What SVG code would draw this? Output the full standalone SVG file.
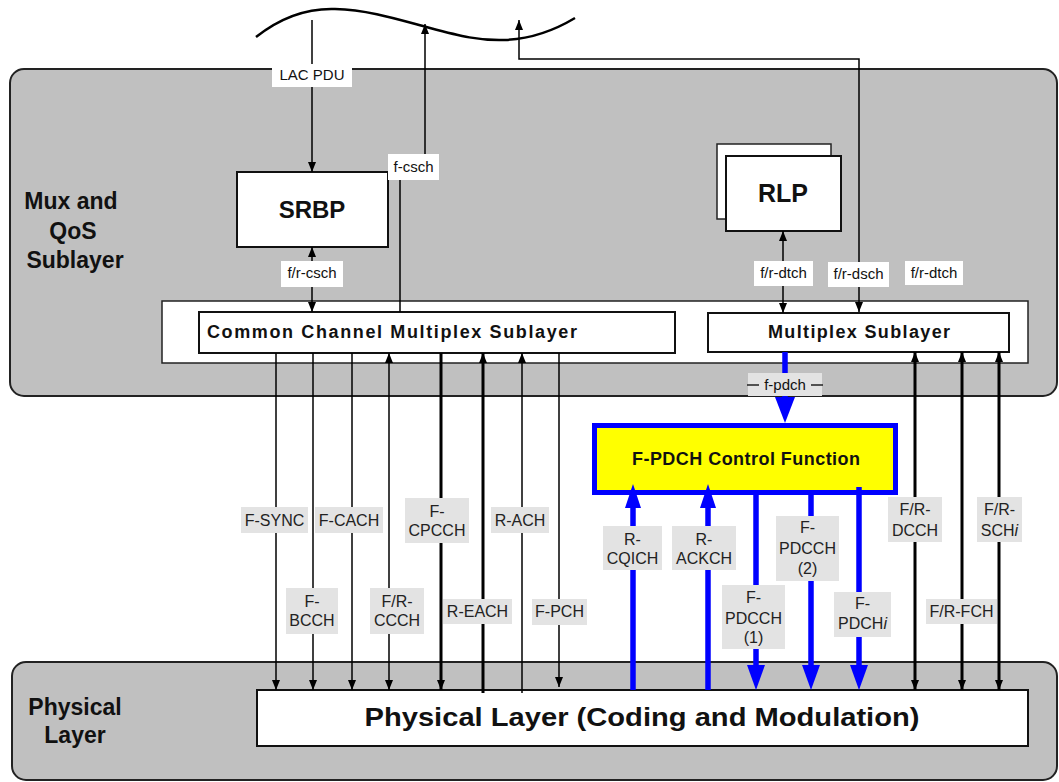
<svg xmlns="http://www.w3.org/2000/svg" width="1059" height="782" viewBox="0 0 1059 782">
  <defs>
    <style>
      .layer { fill: #c0c0c0; stroke: #222; stroke-width: 2; }
      .box { fill: #fff; stroke: #111; stroke-width: 2; }
      .thinbox { fill: #fff; stroke: #222; stroke-width: 1.5; }
      .ln { stroke: #000; stroke-width: 1.5; fill: none; }
      .lnb { stroke: #000; stroke-width: 3; fill: none; }
      .blue { stroke: #0000ff; stroke-width: 5.5; fill: none; }
      .bhead { fill: #0000ff; }
      .glab { fill: #e3e3e3; }
      .wlab { fill: #fff; }
      .lt { font-family: "Liberation Sans", Arial, sans-serif; font-size: 16px; fill: #222; text-anchor: middle; }
      .wt { font-family: "Liberation Sans", Arial, sans-serif; font-size: 15px; fill: #111; text-anchor: middle; }
      .nt { font-family: "Liberation Sans", Arial, sans-serif; font-weight: bold; fill: #111; text-anchor: middle; }
    </style>
    <marker id="arr" viewBox="0 0 10 8" refX="10" refY="4" markerUnits="userSpaceOnUse" markerWidth="10" markerHeight="8" orient="auto-start-reverse">
      <path d="M0,0 L10,4 L0,8 z" fill="#000"/>
    </marker>
  </defs>

  <rect width="1059" height="782" fill="#fff"/>

  <!-- upper layer -->
  <g id="mux-qos-sublayer">
    <rect class="layer" x="10" y="69" width="1047" height="327" rx="14"/>
    <text class="nt" font-size="23" x="71" y="209">Mux and</text>
    <text class="nt" font-size="23" x="73" y="239">QoS</text>
    <text class="nt" font-size="23" x="75" y="268">Sublayer</text>
  </g>

  <!-- lower layer -->
  <g id="physical-layer-region">
    <rect class="layer" x="12" y="662" width="1045" height="118" rx="14"/>
    <text class="nt" font-size="23" x="75" y="715">Physical</text>
    <text class="nt" font-size="23" x="75" y="743">Layer</text>
  </g>

  <g id="srbp">
    <rect class="box" x="237" y="172" width="151" height="75"/>
    <text class="nt" font-size="24" x="312" y="218">SRBP</text>
  </g>

  <g id="rlp">
    <rect class="thinbox" x="717" y="144" width="114" height="75"/>
    <rect class="box" x="726" y="156" width="115" height="75" stroke-width="2.5"/>
    <text class="nt" font-size="25" x="783" y="202">RLP</text>
  </g>

  <g id="sublayer-frame">
    <rect class="thinbox" x="162" y="301" width="866" height="62"/>
  </g>

  <g id="common-channel-mux">
    <rect class="box" x="199" y="312" width="476" height="41"/>
    <text class="nt" font-size="18" x="392" y="338" textLength="370">Common Channel Multiplex Sublayer</text>
  </g>

  <g id="multiplex-sublayer">
    <rect class="box" x="708" y="313" width="301" height="39"/>
    <text class="nt" font-size="18" x="859" y="338" textLength="182">Multiplex Sublayer</text>
  </g>

  <g id="pdch-control">
    <rect x="594.5" y="425.5" width="301" height="67" fill="#ffff00" stroke="#0000ff" stroke-width="5"/>
    <text class="nt" font-size="18" x="746" y="465" textLength="228">F-PDCH Control Function</text>
  </g>

  <g id="physical-layer">
    <rect class="box" x="257" y="690" width="771" height="56"/>
    <text class="nt" font-size="26" x="642" y="726" textLength="555" lengthAdjust="spacingAndGlyphs">Physical Layer (Coding and Modulation)</text>
  </g>

  <g id="connectors">
    <!-- air interface curve -->
    <path d="M256,37 C280,18 305,8 335,9 C370,10 400,20 430,28 C460,36 480,41 505,40 C530,39 555,30 575,18" stroke="#000" stroke-width="2.5" fill="none"/>

    <!-- upper sublayer links -->
    <line class="ln" x1="312" y1="20" x2="312" y2="172" marker-end="url(#arr)"/>
    <path class="ln" d="M400,312 V167 H425 V24" marker-end="url(#arr)"/>
    <path class="ln" d="M859,312 V59 H519 V20" stroke-width="2" marker-start="url(#arr)" marker-end="url(#arr)"/>
    <line class="ln" x1="312" y1="247" x2="312" y2="312" marker-start="url(#arr)" marker-end="url(#arr)"/>
    <line class="ln" x1="783" y1="231" x2="783" y2="313" marker-start="url(#arr)" marker-end="url(#arr)"/>

    <!-- common channels -->
    <line class="ln" x1="276" y1="353" x2="276" y2="690" marker-end="url(#arr)"/>
    <line class="ln" x1="313" y1="353" x2="313" y2="690" marker-end="url(#arr)"/>
    <line class="ln" x1="352" y1="353" x2="352" y2="690" marker-end="url(#arr)"/>
    <line class="ln" x1="389" y1="353" x2="389" y2="690" marker-start="url(#arr)" marker-end="url(#arr)"/>
    <line class="lnb" x1="441" y1="353" x2="441" y2="690" marker-end="url(#arr)"/>
    <line class="lnb" x1="483" y1="353" x2="483" y2="693" marker-start="url(#arr)"/>
    <line class="ln" x1="522" y1="353" x2="522" y2="693" marker-start="url(#arr)"/>
    <line class="ln" x1="559" y1="353" x2="559" y2="687" marker-end="url(#arr)"/>

    <!-- dedicated channels -->
    <line class="lnb" x1="915" y1="352" x2="915" y2="690" marker-start="url(#arr)" marker-end="url(#arr)"/>
    <line class="lnb" x1="962" y1="352" x2="962" y2="690" marker-start="url(#arr)" marker-end="url(#arr)"/>
    <line class="lnb" x1="999" y1="352" x2="999" y2="690" marker-start="url(#arr)" marker-end="url(#arr)"/>

    <!-- packet data channels -->
    <line class="blue" x1="785" y1="352" x2="785" y2="399"/>
    <polygon class="bhead" points="775,397 795,397 785,423"/>
    <line class="blue" x1="633" y1="690" x2="633" y2="505"/>
    <polygon class="bhead" points="625,508 641,508 633,484"/>
    <line class="blue" x1="708" y1="690" x2="708" y2="505"/>
    <polygon class="bhead" points="700,508 716,508 708,484"/>
    <line class="blue" x1="756" y1="495" x2="756" y2="668"/>
    <polygon class="bhead" points="747,665 765,665 756,690"/>
    <line class="blue" x1="811" y1="495" x2="811" y2="668"/>
    <polygon class="bhead" points="802,665 820,665 811,690"/>
    <line class="blue" x1="859" y1="487" x2="859" y2="668"/>
    <polygon class="bhead" points="850,665 868,665 859,690"/>

    <!-- labels -->
    <rect class="wlab" x="272" y="64" width="80" height="23"/>
    <text class="wt" x="312" y="80">LAC PDU</text>
    <rect class="wlab" x="388" y="154" width="51" height="26"/>
    <text class="wt" x="413.5" y="172">f-csch</text>
    <rect class="wlab" x="281" y="261" width="62" height="26"/>
    <text class="wt" x="312" y="278">f/r-csch</text>
    <rect class="wlab" x="754" y="261" width="59" height="25"/>
    <text class="wt" x="783.5" y="278">f/r-dtch</text>
    <rect class="wlab" x="828" y="262" width="61" height="25"/>
    <text class="wt" x="858.5" y="279">f/r-dsch</text>
    <rect class="wlab" x="905" y="261" width="58" height="24"/>
    <text class="wt" x="934" y="278">f/r-dtch</text>

    <rect class="glab" x="748" y="373" width="74" height="23"/>
    <line x1="747" y1="385" x2="759" y2="385" stroke="#222" stroke-width="1.5"/>
    <line x1="811" y1="385" x2="823" y2="385" stroke="#222" stroke-width="1.5"/>
    <text class="wt" x="785" y="390">f-pdch</text>

    <rect class="glab" x="241" y="507" width="67" height="26"/>
    <text class="lt" x="274.5" y="526">F-SYNC</text>
    <rect class="glab" x="315" y="507" width="68" height="26"/>
    <text class="lt" x="349" y="526">F-CACH</text>
    <rect class="glab" x="405" y="498" width="64" height="45"/>
    <text class="lt" x="437" y="517">F-</text>
    <text class="lt" x="437" y="536">CPCCH</text>
    <rect class="glab" x="491" y="507" width="58" height="26"/>
    <text class="lt" x="520" y="526">R-ACH</text>
    <rect class="glab" x="286" y="588" width="52" height="46"/>
    <text class="lt" x="312" y="607">F-</text>
    <text class="lt" x="312" y="626">BCCH</text>
    <rect class="glab" x="370" y="588" width="54" height="46"/>
    <text class="lt" x="397" y="607">F/R-</text>
    <text class="lt" x="397" y="626">CCCH</text>
    <rect class="glab" x="443" y="599" width="69" height="25"/>
    <text class="lt" x="477.5" y="617">R-EACH</text>
    <rect class="glab" x="532" y="599" width="55" height="26"/>
    <text class="lt" x="559.5" y="617">F-PCH</text>

    <rect class="glab" x="603" y="526" width="59" height="44"/>
    <text class="lt" x="632.5" y="545">R-</text>
    <text class="lt" x="632.5" y="564">CQICH</text>
    <rect class="glab" x="672" y="526" width="64" height="44"/>
    <text class="lt" x="704" y="545">R-</text>
    <text class="lt" x="704" y="564">ACKCH</text>
    <rect class="glab" x="776" y="516" width="63" height="65"/>
    <text class="lt" x="807.5" y="533">F-</text>
    <text class="lt" x="807.5" y="554">PDCCH</text>
    <text class="lt" x="807.5" y="574">(2)</text>
    <rect class="glab" x="722" y="585" width="63" height="64"/>
    <text class="lt" x="753.5" y="603">F-</text>
    <text class="lt" x="753.5" y="624">PDCCH</text>
    <text class="lt" x="753.5" y="643">(1)</text>
    <rect class="glab" x="834" y="592" width="57" height="45"/>
    <text class="lt" x="862.5" y="609">F-</text>
    <text class="lt" x="862.5" y="629">PDCH<tspan font-style="italic">i</tspan></text>
    <rect class="glab" x="888" y="497" width="54" height="45"/>
    <text class="lt" x="915" y="515">F/R-</text>
    <text class="lt" x="915" y="536">DCCH</text>
    <rect class="glab" x="977" y="497" width="45" height="45"/>
    <text class="lt" x="999.5" y="515">F/R-</text>
    <text class="lt" x="999.5" y="536">SCH<tspan font-style="italic">i</tspan></text>
    <rect class="glab" x="926" y="599" width="71" height="25"/>
    <text class="lt" x="961.5" y="617">F/R-FCH</text>
  </g>
</svg>
